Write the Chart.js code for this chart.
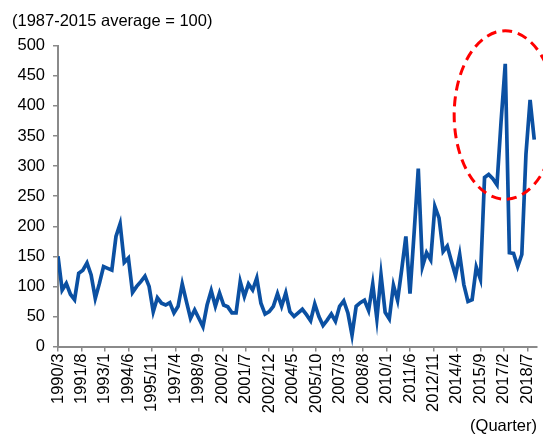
<!DOCTYPE html>
<html>
<head>
<meta charset="utf-8">
<script src="https://cdn.jsdelivr.net/npm/chart.js@4"></script>
<style>
  html, body { margin: 0; padding: 0; background: #fff; }
  #wrap { width: 543px; height: 436px; }
</style>
</head>
<body>
<div id="wrap"><canvas id="indexChart"></canvas></div>
<script>
// quarterly index, first point = 1990/3
const startYear = 1990;
const startMonth = 3;
const indexValues = [
  150, 94, 105, 87, 78, 122, 127, 139, 119, 80,
  105, 133, 130, 127, 183, 204, 140, 147, 90, 100,
  108, 117, 100, 58, 81, 72, 69, 73, 56, 67,
  104, 75, 47, 61, 47, 33, 69, 93, 67, 89,
  69, 66, 56, 56, 108, 83, 104, 94, 114, 72,
  54, 58, 67, 88, 67, 89, 58, 50, 56, 62,
  53, 43, 71, 50, 35, 44, 54, 42, 67, 76,
  56, 19, 67, 73, 77, 60, 104, 46, 119, 57,
  46, 102, 77, 128, 183, 88, 190, 296, 133, 156,
  144, 233, 214, 158, 167, 142, 118, 153, 103, 75,
  78, 132, 112, 281, 286, 279, 269, 375, 470, 156,
  155, 133, 153, 320, 410, 344
];
const yTicks = [0, 50, 100, 150, 200, 250, 300, 350, 400, 450, 500];
const labelStepMonths = 17;
const yTitle = '(1987-2015 average = 100)';
const xTitle = '(Quarter)';

// month offset -> "year/month"
function monthLabel(m) {
  const t = startMonth - 1 + m;
  return (startYear + Math.floor(t / 12)) + '/' + (t % 12 + 1);
}

const points = indexValues.map((v, i) => ({ x: i * 3, y: v }));

const font = { family: '"Liberation Sans", Arial, sans-serif', size: 16.5, weight: 'normal' };
const axisGrey = '#8a8a8a';

// red dashed ring round the recent spikes
const ringPlugin = {
  id: 'ring',
  afterDatasetsDraw(chart) {
    const { ctx, scales: { x, y } } = chart;
    const cx = x.getPixelForValue(324);
    const cy = y.getPixelForValue(385);
    const rx = x.getPixelForValue(324 + 37) - cx;
    const ry = cy - y.getPixelForValue(385 + 140);
    ctx.save();
    ctx.strokeStyle = '#ff0000';
    ctx.lineWidth = 3;
    ctx.setLineDash([10, 6]);
    ctx.beginPath();
    ctx.ellipse(cx, cy, rx, ry, 0, 0, Math.PI * 2);
    ctx.stroke();
    ctx.restore();
  }
};

const ctx = document.getElementById('indexChart').getContext('2d');
const indexChart = new Chart(ctx, {
  type: 'line',
  data: {
    datasets: [{
      data: points,
      borderColor: '#0b50a2',
      borderWidth: 3.7,
      pointRadius: 0,
      tension: 0,
      fill: false
    }]
  },
  options: {
    responsive: true,
    maintainAspectRatio: false,
    animation: false,
    layout: { padding: { left: 12, right: 0, top: 0, bottom: 0 } },
    plugins: {
      legend: { display: false },
      tooltip: { enabled: false },
      title: {
        display: true,
        text: yTitle,
        align: 'start',
        color: '#000',
        font: font,
        padding: { top: 12, bottom: 14 }
      }
    },
    scales: {
      x: {
        type: 'linear',
        min: 0,
        max: 347,
        afterFit: (scale) => { scale.paddingRight = 6; },
        grid: { drawOnChartArea: false, drawTicks: true, tickLength: 5, color: axisGrey, lineWidth: 1.5 },
        border: { color: axisGrey, width: 2 },
        ticks: {
          stepSize: labelStepMonths,
          includeBounds: false,
          autoSkip: false,
          maxRotation: 90,
          minRotation: 90,
          padding: 2,
          color: '#000',
          font: font,
          callback: (v) => monthLabel(v)
        },
        title: {
          display: true,
          text: xTitle,
          align: 'end',
          color: '#000',
          font: font,
          padding: { top: 1, bottom: 0 }
        }
      },
      y: {
        min: 0,
        max: 500,
        afterFit: (scale) => { scale.width = 46; },
        grid: { drawOnChartArea: false, drawTicks: true, tickLength: 5, color: axisGrey, lineWidth: 1.5 },
        border: { color: axisGrey, width: 2 },
        afterBuildTicks: (scale) => { scale.ticks = yTicks.map(v => ({ value: v })); },
        ticks: {
          padding: 8,
          color: '#000',
          font: font
        }
      }
    }
  },
  plugins: [ringPlugin]
});
</script>
</body>
</html>
